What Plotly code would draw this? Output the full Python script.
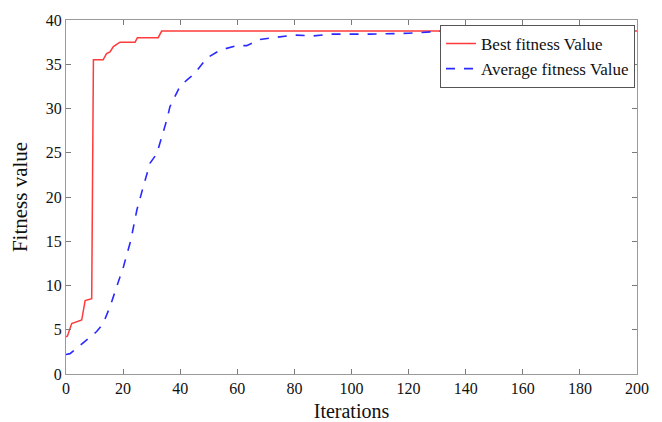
import plotly.graph_objects as go

best_x = [0, 0.5, 2, 5.5, 6.7, 8.6, 9.0, 9.6, 13, 14.2, 15.4, 16.6, 18.9, 24.2, 25, 32.3, 33.5, 200]
best_y = [4.2, 4.3, 5.7, 6.1, 8.3, 8.4, 8.5, 35.5, 35.5, 36.2, 36.4, 37.0, 37.5, 37.5, 38.0, 38.0, 38.75, 38.75]

avg_x = [0, 1.4, 10.75, 13, 15.4, 17.8, 20.1, 22.7, 24.8, 27.1, 29.4, 31.8, 35.3, 36.4, 39.9,
         42.3, 45.2, 49.3, 54, 59.8, 63.3, 68, 79.6, 86.6, 92.5, 106.5, 120, 132, 200]
avg_y = [2.2, 2.3, 4.8, 5.7, 7.6, 9.9, 12.1, 15.1, 18.5, 21.2, 23.8, 24.9, 28.7, 30.2, 32.5,
         33.2, 34.0, 35.7, 36.6, 37.1, 37.1, 37.8, 38.3, 38.2, 38.4, 38.4, 38.5, 38.75, 38.75]

x_ticks = list(range(0, 201, 20))
y_ticks = list(range(0, 41, 5))

serif = "Liberation Serif, Times New Roman, serif"

fig = go.Figure()
fig.add_trace(go.Scatter(x=best_x, y=best_y, mode="lines", name="Best fitness Value",
                         line=dict(color="#ff3b3b", width=1.5)))
fig.add_trace(go.Scatter(x=avg_x, y=avg_y, mode="lines", name="Average fitness Value",
                         line=dict(color="#2a2aff", width=1.6, dash="dash")))

axis_common = dict(showgrid=False, zeroline=False, showline=True, mirror="ticks",
                   linecolor="#9a9a9a", linewidth=1.2, ticks="inside", ticklen=5,
                   tickcolor="#7a7a7a", automargin=False,
                   tickfont=dict(family=serif, size=16, color="#111"))

fig.update_xaxes(range=[0, 200], tickvals=x_ticks,
                 title=dict(text="Iterations", font=dict(family=serif, size=20, color="#111")),
                 **axis_common)
fig.update_yaxes(range=[0, 40], tickvals=y_ticks,
                 title=dict(text="Fitness value", font=dict(family=serif, size=21, color="#111")),
                 **axis_common)

fig.update_layout(
    width=654, height=414,
    margin=dict(l=58, r=25, t=12, b=48),
    paper_bgcolor="white", plot_bgcolor="white",
    legend=dict(x=0.9965, xanchor="right", y=0.986, yanchor="top",
                bgcolor="white", bordercolor="#555", borderwidth=1,
                font=dict(family=serif, size=17, color="#111"),
                tracegroupgap=0, itemwidth=30),
)

fig.write_html("out.html")
